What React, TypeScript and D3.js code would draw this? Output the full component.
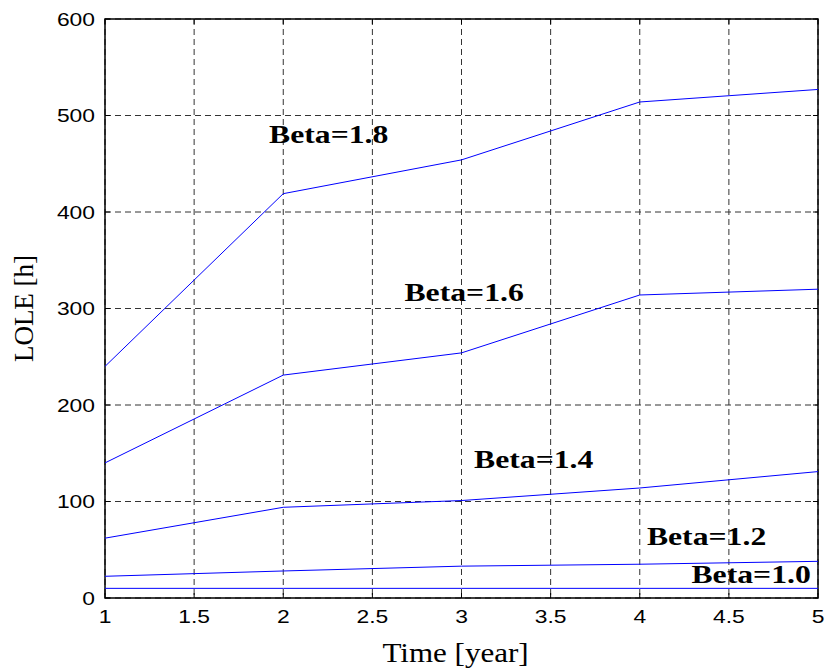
import React, { useEffect, useRef } from "react";
import * as d3 from "d3";

// time in years
const years = [1, 2, 3, 4, 5];

// LOLE [h] for every beta
const beta18 = [240, 419, 454, 514, 527];
const beta16 = [140, 231, 254, 314, 320];
const beta14 = [62, 94, 101, 114, 131];
const beta12 = [22.5, 28, 33, 35, 38];
const beta10 = [10, 10, 10, 10, 10];

const seriesNames = ["Beta=1.8", "Beta=1.6", "Beta=1.4", "Beta=1.2", "Beta=1.0"];
const seriesValues = [beta18, beta16, beta14, beta12, beta10];
// where each label sits, in data units (x = year, y = LOLE)
const labelX = [1.92, 2.68, 3.07, 4.04, 4.29];
const labelY = [472, 308, 135, 55, 15.5];

const xTicks = [1, 1.5, 2, 2.5, 3, 3.5, 4, 4.5, 5];
const yTicks = [0, 100, 200, 300, 400, 500, 600];

const W = 828;
const H = 671;

export default function App() {
  const ref = useRef<SVGSVGElement>(null);

  useEffect(() => {
    const margin = { top: 19, right: 10, bottom: 73, left: 105 };
    const width = W - margin.left - margin.right;
    const height = H - margin.top - margin.bottom;

    const svg = d3.select(ref.current);
    svg.selectAll("*").remove();
    const g = svg
      .append("g")
      .attr("transform", "translate(" + margin.left + "," + margin.top + ")");

    const x = d3.scaleLinear().domain([1, 5]).range([0, width]);
    const y = d3.scaleLinear().domain([0, 600]).range([height, 0]);

    // dashed grid
    g.selectAll(".gx")
      .data(xTicks)
      .enter()
      .append("line")
      .attr("x1", (d) => x(d))
      .attr("x2", (d) => x(d))
      .attr("y1", 0)
      .attr("y2", height)
      .attr("stroke", "#333")
      .attr("stroke-width", 1)
      .attr("stroke-dasharray", "6,4");
    g.selectAll(".gy")
      .data(yTicks)
      .enter()
      .append("line")
      .attr("x1", 0)
      .attr("x2", width)
      .attr("y1", (d) => y(d))
      .attr("y2", (d) => y(d))
      .attr("stroke", "#333")
      .attr("stroke-width", 1)
      .attr("stroke-dasharray", "6,4");

    // inward ticks on all four sides
    const tl = 5;
    xTicks.forEach((t) => {
      g.append("line").attr("x1", x(t)).attr("x2", x(t)).attr("y1", height).attr("y2", height - tl).attr("stroke", "#000");
      g.append("line").attr("x1", x(t)).attr("x2", x(t)).attr("y1", 0).attr("y2", tl).attr("stroke", "#000");
    });
    yTicks.forEach((t) => {
      g.append("line").attr("x1", 0).attr("x2", tl).attr("y1", y(t)).attr("y2", y(t)).attr("stroke", "#000");
      g.append("line").attr("x1", width).attr("x2", width - tl).attr("y1", y(t)).attr("y2", y(t)).attr("stroke", "#000");
    });

    // box
    g.append("rect")
      .attr("x", 0)
      .attr("y", 0)
      .attr("width", width)
      .attr("height", height)
      .attr("fill", "none")
      .attr("stroke", "#000")
      .attr("stroke-width", 1.5);

    // tick labels (stretched a little, like the source)
    xTicks.forEach((t) => {
      g.append("text")
        .attr("transform", "translate(" + x(t) + "," + (height + 25) + ") scale(1.27,1)")
        .attr("text-anchor", "middle")
        .style("font-family", "Liberation Sans, Arial")
        .style("font-size", "18px")
        .attr("fill", "#000")
        .text(String(t));
    });
    yTicks.forEach((t) => {
      g.append("text")
        .attr("transform", "translate(-10," + (y(t) + 6.5) + ") scale(1.27,1)")
        .attr("text-anchor", "end")
        .style("font-family", "Liberation Sans, Arial")
        .style("font-size", "18px")
        .attr("fill", "#000")
        .text(String(t));
    });

    // lines
    const line = d3
      .line<number>()
      .x((_, i) => x(years[i]))
      .y((d) => y(d));
    g.selectAll(".series")
      .data(seriesValues)
      .enter()
      .append("path")
      .attr("d", (d) => line(d))
      .attr("fill", "none")
      .attr("stroke", "#0000ff")
      .attr("stroke-width", 1);

    // series labels
    seriesNames.forEach((name, i) => {
      g.append("text")
        .attr("transform", "translate(" + x(labelX[i]) + "," + y(labelY[i]) + ") scale(1.22,1)")
        .style("font-family", "Liberation Serif, Times New Roman")
        .style("font-weight", "bold")
        .style("font-size", "26px")
        .attr("fill", "#000")
        .text(name);
    });

    // axis titles
    g.append("text")
      .attr("transform", "translate(" + (x(3) - 6) + "," + (height + 64) + ") scale(1.15,1)")
      .attr("text-anchor", "middle")
      .style("font-family", "Liberation Serif, Times New Roman")
      .style("font-size", "27px")
      .attr("fill", "#000")
      .text("Time [year]");
    g.append("text")
      .attr("transform", "translate(-72," + y(300) + ") rotate(-90)")
      .attr("text-anchor", "middle")
      .style("font-family", "Liberation Serif, Times New Roman")
      .style("font-size", "27px")
      .attr("fill", "#000")
      .text("LOLE [h]");
  }, []);

  return (
    <svg
      ref={ref}
      width={W}
      height={H}
      style={{ position: "absolute", left: 0, top: 0, background: "#fff" }}
    />
  );
}
